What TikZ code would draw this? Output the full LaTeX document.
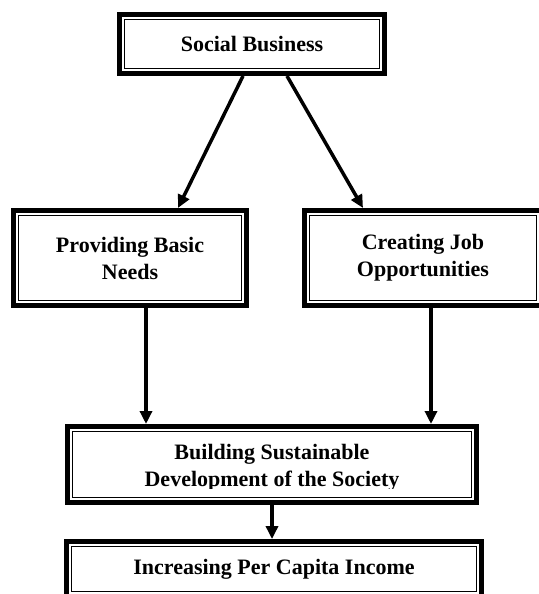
\documentclass[tikz,border=0pt]{standalone}
\usepackage{fontspec}
\setmainfont{Liberation Serif}
\usepackage{tikz}
\usetikzlibrary{arrows.meta,positioning}
\usetikzlibrary{calc}

\tikzset{
  tbox/.style={draw, line width=5pt, outer sep=2.5pt, inner sep=0pt, fill=white},
  txt/.style={font=\fontsize{22}{27}\selectfont\bfseries, align=center},
  arr/.style={line width=3.5pt, -{Triangle[length=13pt,width=12pt]}}
}

\begin{document}
\begin{tikzpicture}[x=1pt,y=-1pt]
\useasboundingbox (0,0) rectangle (538,594);
\node[tbox, minimum width=265, minimum height=59, txt] (sb) at (252,44) {Social Business};
\node[tbox, minimum width=233, minimum height=95, txt] (pbn) at (130,258) {Providing Basic\\Needs};
\node[tbox, minimum width=237, minimum height=95, txt] (cjo) at (423,258) {Creating Job\\Opportunities};
\node[tbox, minimum width=409, minimum height=76] (bsd) at (272,464.5) {};
\node[tbox, minimum width=415, minimum height=54.5, txt] (pci) at (274,568.8) {Increasing Per Capita Income};
% inner thin frames
\foreach \n in {sb,pbn,cjo,bsd,pci}
  \draw[line width=1.1pt] ([shift={(7.5,7.5)}]\n.north west) rectangle ([shift={(-7.5,-7.5)}]\n.south east);
\begin{scope}
\clip (0,420) rectangle (538,488.5);
\node[txt] (bsdtext) at (272,468) {Building Sustainable\\Development of the Society};
\end{scope}
% arrows
\draw[arr] ([xshift=-9]sb.south) -- ([xshift=48]pbn.north);
\draw[arr] ([xshift=35]sb.south) -- ([xshift=-60]cjo.north);
\draw[arr] ([xshift=16]pbn.south) -- ([xshift=16]pbn.south |- bsd.north);
\draw[arr] ([xshift=8]cjo.south) -- ([xshift=8]cjo.south |- bsd.north);
\draw[arr] (bsd.south) -- (bsd.south |- pci.north);
\end{tikzpicture}
\end{document}
